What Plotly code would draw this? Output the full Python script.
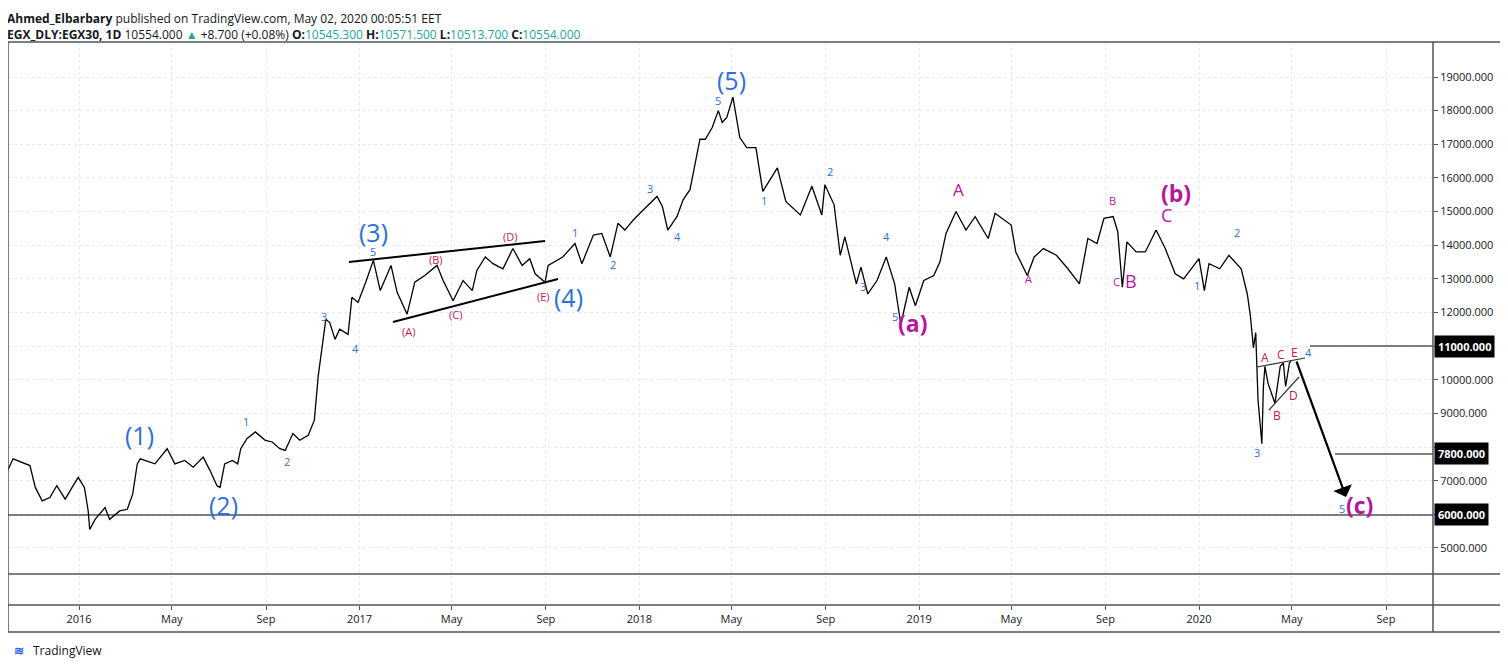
import plotly.graph_objects as go
import pandas as pd

dates = ["2015-09-29","2015-10-07","2015-10-29","2015-11-05","2015-11-14","2015-11-24","2015-12-03","2015-12-14","2015-12-23","2015-12-31",
"2016-01-08","2016-01-13","2016-01-15","2016-01-22","2016-02-04","2016-02-10","2016-02-23","2016-03-04","2016-03-11","2016-03-17",
"2016-03-21","2016-04-09","2016-04-25","2016-05-05","2016-05-18","2016-05-29","2016-06-11","2016-06-20","2016-06-29","2016-07-03",
"2016-07-09","2016-07-19","2016-07-26","2016-07-30","2016-08-07","2016-08-18","2016-08-31","2016-09-09","2016-09-19","2016-09-26",
"2016-10-06","2016-10-15","2016-10-26","2016-11-03","2016-11-08","2016-11-13","2016-11-18","2016-11-23","2016-11-30","2016-12-06",
"2016-12-17","2016-12-22","2016-12-30","2017-01-09","2017-01-19","2017-01-28","2017-02-11","2017-02-19","2017-03-04","2017-03-14",
"2017-03-27","2017-04-12","2017-04-20","2017-05-03","2017-05-16","2017-05-28","2017-06-03","2017-06-14","2017-06-24","2017-07-07",
"2017-07-20","2017-08-01","2017-08-11","2017-08-18","2017-08-31","2017-09-04","2017-09-23","2017-10-09","2017-10-18","2017-11-02",
"2017-11-13","2017-11-24","2017-12-04","2017-12-13","2017-12-24","2018-01-04","2018-01-15","2018-01-24","2018-01-31","2018-02-07",
"2018-02-19","2018-02-27","2018-03-08","2018-03-15","2018-03-21","2018-03-28","2018-04-06","2018-04-14","2018-04-19","2018-04-25",
"2018-05-03","2018-05-06","2018-05-12","2018-05-21","2018-06-02","2018-06-11","2018-06-30","2018-07-11","2018-07-30","2018-08-14",
"2018-08-27","2018-08-31","2018-09-12","2018-09-20","2018-09-26","2018-10-11","2018-10-17","2018-10-26","2018-11-07","2018-11-19",
"2018-11-30","2018-12-08","2018-12-19","2018-12-27","2019-01-07","2019-01-20","2019-01-28","2019-02-05","2019-02-18","2019-03-03",
"2019-03-15","2019-04-01","2019-04-10","2019-05-01","2019-05-07","2019-05-22","2019-05-31","2019-06-12","2019-06-29","2019-07-14",
"2019-07-29","2019-08-09","2019-08-21","2019-08-30","2019-09-11","2019-09-17","2019-09-23","2019-09-29","2019-10-11","2019-10-23",
"2019-11-06","2019-11-18","2019-12-01","2019-12-12","2020-01-01","2020-01-08","2020-01-14","2020-01-28","2020-02-09","2020-02-25",
"2020-03-04","2020-03-08","2020-03-12","2020-03-15","2020-03-18","2020-03-23","2020-03-25","2020-03-27","2020-03-31","2020-04-09",
"2020-04-16","2020-04-20","2020-04-23","2020-04-28","2020-04-30"]
prices = [7250,7650,7450,6800,6400,6500,6850,6450,6800,7100,
6800,6100,5550,5850,6200,5850,6100,6150,6600,7500,
7650,7500,7950,7500,7600,7400,7700,7300,6850,6800,
7500,7600,7500,7950,8250,8450,8200,8150,7950,7900,
8400,8200,8350,8800,10100,11000,11800,11700,11200,11500,
11350,12450,12300,12900,13550,12650,13400,12600,11950,12900,
13100,13400,12950,12350,12950,12650,13250,13650,13450,13300,
13900,13400,13600,13150,12900,13400,13650,14050,13450,14300,
14350,13650,14650,14450,14750,15000,15250,15450,15150,14450,
14850,15350,15650,16450,17150,17150,17500,18000,17650,17800,
18400,18000,17200,16900,16900,15600,16300,15300,14900,15750,
14900,15800,15200,13700,14250,12850,13350,12550,12950,13650,
12850,11650,12750,12200,12950,13100,13500,14350,15000,14450,
14850,14200,14950,14600,13800,13100,13650,13900,13700,13300,
12850,14200,14050,14800,14850,14400,12750,14100,13800,13800,
14450,13900,13150,13000,13600,12650,13450,13300,13700,13300,
12550,11900,10950,11400,9400,8100,9800,10400,9900,9300,
10400,10500,9800,10500,10554]

tick_vals = ["2016-01-01","2016-05-01","2016-09-01","2017-01-01","2017-05-01","2017-09-01","2018-01-01","2018-05-01",
             "2018-09-01","2019-01-01","2019-05-01","2019-09-01","2020-01-01","2020-05-01","2020-09-01"]
tick_text = ["2016","May","Sep","2017","May","Sep","2018","May","Sep","2019","May","Sep","2020","May","Sep"]
price_ticks = [5000,6000,7000,8000,9000,10000,11000,12000,13000,14000,15000,16000,17000,18000,19000]
levels = [11000, 7800, 6000]

# page body adds an 8px offset; geometry below is in screenshot pixels
OFF = 8
PL, PR, PT, PB = 8, 1433, 42, 605
W = PR - PL; H = PB - PT

def X(px):
    return pd.Timestamp("2016-01-01") + pd.Timedelta(days=(px - 79) / 0.7666)
def Y(py):
    return 19000 - (py - 77) * 1000 / 33.64
def PX(px):
    return (px - PL) / W
def PY(py):
    return (PB - py) / H

BLUE = "#2f6fd6"; MAG = "#b5179e"; CRIM = "#c2185b"
fig = go.Figure(go.Scatter(x=pd.to_datetime(dates), y=prices, mode="lines",
                           line=dict(color="#000000", width=1.3), hoverinfo="skip"))
ann = []
def lab(px, py, t, c, s, bold=False):
    ann.append(dict(x=X(px), y=Y(py), text=("<b>%s</b>" % t) if bold else t, showarrow=False,
                    font=dict(color=c, size=s, family="Open Sans")))
for px, py, t in [(139,435,"(1)"),(223,505,"(2)"),(373,232,"(3)"),(568,297,"(4)"),(731,80,"(5)")]:
    lab(px, py, t, BLUE, 25)
for px, py, t in [(246,421,"1"),(287,461,"2"),(324,316,"3"),(355,348,"4"),(373,251,"5"),(575,232,"1"),(613,264,"2"),
                  (650,188,"3"),(677,236,"4"),(718,100,"5"),(764,200,"1"),(830,171,"2"),(863,286,"3"),(886,236,"4"),
                  (895,316,"5"),(1197,285,"1"),(1237,232,"2"),(1257,452,"3"),(1308,352,"4"),(1342,508,"5")]:
    lab(px, py, t, BLUE, 11)
for px, py, t in [(408,331,"(A)"),(436,259,"(B)"),(455,314,"(C)"),(510,236,"(D)"),(543,296,"(E)")]:
    lab(px, py, t, CRIM, 11)
for px, py, t in [(1265,357,"A"),(1277,415,"B"),(1281,354,"C"),(1293,395,"D"),(1294,352,"E")]:
    lab(px, py, t, CRIM, 12)
for px, py, t, s, b in [(912,323,"(a)",23,True),(1176,193,"(b)",23,True),(1359,505,"(c)",23,True),(958,189,"A",17,False),
                        (1028,278,"A",11,False),(1112,200,"B",11,False),(1116,281,"C",11,False),(1131,281,"B",18,False),
                        (1166,215,"C",18,False)]:
    lab(px, py, t, MAG, s, b)
ann.append(dict(x=X(1346), y=Y(497), ax=X(1296), ay=Y(360), axref="x", ayref="y", xref="x", yref="y",
                showarrow=True, arrowhead=1, arrowsize=1.5, arrowwidth=2.2, arrowcolor="#000", text=""))
for lv in levels:
    ann.append(dict(xref="paper", x=1, xanchor="left", xshift=1, y=lv, text="<b>%.3f</b>" % lv, showarrow=False,
                    bgcolor="#000", font=dict(color="#fff", size=11, family="Open Sans"), borderpad=3))
hdr1 = "<b>Ahmed_Elbarbary</b> published on TradingView.com, May 02, 2020 00:05:51 EET"
T = "#26a69a"
hdr2 = ("<b>EGX_DLY:EGX30, 1D</b> 10554.000 <span style='color:%s'>▲</span> +8.700 (+0.08%%) "
        "<b>O:</b><span style='color:%s'>10545.300</span> <b>H:</b><span style='color:%s'>10571.500</span> "
        "<b>L:</b><span style='color:%s'>10513.700</span> <b>C:</b><span style='color:%s'>10554.000</span>") % (T,T,T,T,T)
for yy, t in [(8, hdr1), (24, hdr2)]:
    ann.append(dict(xref="paper", yref="paper", x=PX(5), xanchor="left", y=PY(yy), yanchor="top",
                    text=t, showarrow=False, font=dict(size=12, color="#131722", family="Open Sans"), align="left"))
ann.append(dict(xref="paper", yref="paper", x=PX(31), xanchor="left", y=PY(650), yanchor="middle",
                text="TradingView", showarrow=False, font=dict(size=12, color="#131722", family="Open Sans")))
ann.append(dict(xref="paper", yref="paper", x=PX(12), xanchor="left", y=PY(650), yanchor="middle",
                text="<b>≋</b>", showarrow=False, font=dict(size=12, color="#2962ff")))

shapes = []
def seg(x0, y0, x1, y1, w=2, c="#000"):
    shapes.append(dict(type="line", x0=X(x0), y0=Y(y0), x1=X(x1), y1=Y(y1), line=dict(color=c, width=w)))
seg(349,262,545,241); seg(393,322,558,279)
seg(1257,367,1305,358,1.2,"#333"); seg(1269,410,1299,377,1.2,"#333")
seg(1310,346,1433,346,1.2); seg(1335,454,1433,454,1.2); seg(PL,515,1433,515,1.2)
shapes.append(dict(type="line", xref="paper", yref="paper", x0=0, x1=PX(1501), y0=PY(574), y1=PY(574),
                   line=dict(color="#50535e", width=1.5)))
shapes.append(dict(type="rect", xref="paper", yref="paper", x0=0, x1=PX(1501), y0=PY(632), y1=1,
                   line=dict(color="#50535e", width=1.5)))
shapes.append(dict(type="line", xref="paper", yref="paper", x0=1, x1=1, y0=PY(632), y1=1,
                   line=dict(color="#50535e", width=1.5)))
shapes.append(dict(type="line", xref="paper", yref="paper", x0=0, x1=PX(1501), y0=0, y1=0,
                   line=dict(color="#50535e", width=1.5)))
fig.update_layout(
    width=1508 - OFF, height=669 - OFF,
    margin=dict(l=PL - OFF, r=(1508 - OFF) - (PR - OFF), t=PT - OFF, b=(669 - OFF) - (PB - OFF), autoexpand=False),
    plot_bgcolor="#fff", paper_bgcolor="#fff", showlegend=False, annotations=ann, shapes=shapes,
    xaxis=dict(range=[X(PL), X(PR)], tickvals=pd.to_datetime(tick_vals), ticktext=tick_text, showgrid=True,
               gridcolor="#e6e8ee", griddash="dot", ticks="outside", ticklen=4, tickcolor="#50535e", automargin=False,
               tickfont=dict(size=11, color="#131722", family="Open Sans"), showline=False, zeroline=False),
    yaxis=dict(range=[Y(PB), Y(PT)], side="right", tickvals=price_ticks, tickformat=".3f", showgrid=True,
               gridcolor="#e6e8ee", griddash="dot", ticks="outside", ticklen=4, tickcolor="#50535e", automargin=False,
               tickfont=dict(size=11, color="#131722", family="Open Sans"), zeroline=False, showline=False),
)
fig.write_html("out.html")
